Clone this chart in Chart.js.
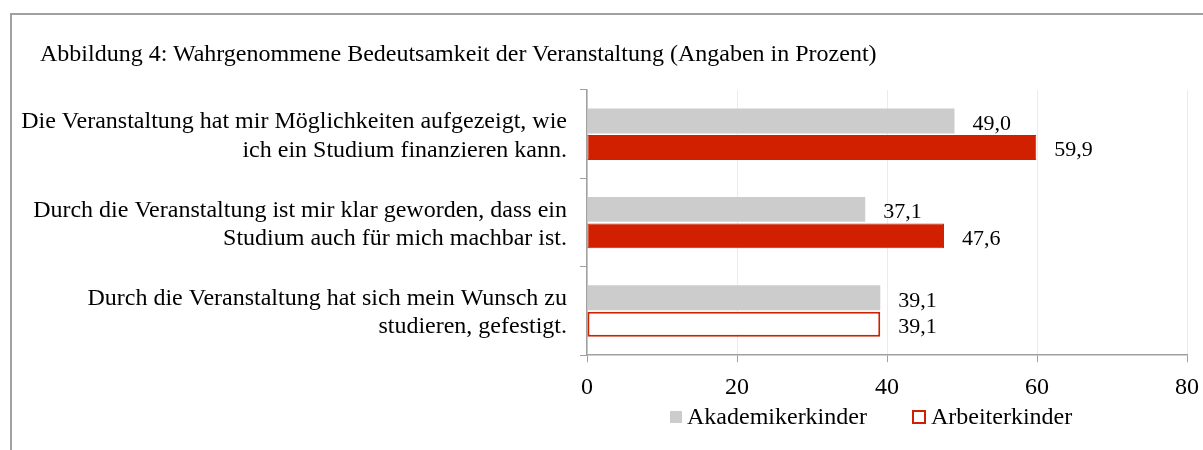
<!DOCTYPE html>
<html lang="de">
<head>
<meta charset="utf-8">
<title>Abbildung 4</title>
<script src="https://cdn.jsdelivr.net/npm/chart.js@4.4.1/dist/chart.umd.min.js"></script>
<style>
  html,body{margin:0;padding:0;background:#fff;overflow:hidden;}
  #wrap{position:relative;width:1203px;height:450px;font-family:'Liberation Serif','Times New Roman',serif;color:#000;}
  #frame{position:absolute;left:10px;top:13px;width:1400px;height:600px;border-top:2px solid #a0a0a0;border-left:2px solid #a0a0a0;}
  #chart{position:absolute;left:0;top:0;}
  #title{position:absolute;left:40px;top:39px;font-size:24px;line-height:28px;white-space:nowrap;}
  #legend{position:absolute;left:670px;top:403px;display:flex;align-items:center;font-size:24px;}
  #legend .item{display:flex;align-items:center;}
  #legend .box{box-sizing:border-box;margin-right:5px;}
</style>
</head>
<body>
<div id="wrap">
  <div id="frame"></div>
  <canvas id="chart" width="1203" height="450"></canvas>
  <div id="title"></div>
  <div id="legend"></div>
</div>
<script>
// Daten
const titel = 'Abbildung 4: Wahrgenommene Bedeutsamkeit der Veranstaltung (Angaben in Prozent)';
const aussagen = [
  ['Die Veranstaltung hat mir Möglichkeiten aufgezeigt, wie', 'ich ein Studium finanzieren kann.'],
  ['Durch die Veranstaltung ist mir klar geworden, dass ein', 'Studium auch für mich machbar ist.'],
  ['Durch die Veranstaltung hat sich mein Wunsch zu', 'studieren, gefestigt.']
];
const serien = ['Akademikerkinder', 'Arbeiterkinder'];
const akademiker = [49.0, 37.1, 39.1];
const arbeiter   = [59.9, 47.6, 39.1];
const xTicks = [0, 20, 40, 60, 80];

const GRAU = '#cccccc', ROT = '#d12000';
const FONT = "'Liberation Serif','Times New Roman',serif";
const fmt = v => v.toFixed(1).replace('.', ',');

document.getElementById('title').textContent = titel;

// Werte rechts neben den Balken
const valueLabels = {
  id: 'valueLabels',
  afterDatasetsDraw(chart) {
    const ctx = chart.ctx;
    ctx.save();
    ctx.font = `22px ${FONT}`;
    ctx.fillStyle = '#000';
    ctx.textAlign = 'left';
    ctx.textBaseline = 'middle';
    chart.data.datasets.forEach((ds, i) => {
      chart.getDatasetMeta(i).data.forEach((bar, j) => {
        ctx.fillText(fmt(ds.data[j]), bar.x + 18, bar.y + 3);
      });
    });
    ctx.restore();
  }
};

new Chart(document.getElementById('chart'), {
  type: 'bar',
  data: {
    labels: aussagen,
    datasets: [
      { label: serien[0], data: akademiker, backgroundColor: GRAU, borderWidth: 0,
        categoryPercentage: 0.6, barPercentage: 0.94 },
      { label: serien[1], data: arbeiter,
        backgroundColor: arbeiter.map((v, i) => i === 2 ? '#ffffff' : ROT),
        borderColor: ROT, borderWidth: arbeiter.map((v, i) => i === 2 ? 2 : 1), borderSkipped: false,
        categoryPercentage: 0.6, barPercentage: 0.94 }
    ]
  },
  options: {
    indexAxis: 'y',
    responsive: false,
    animation: false,
    layout: { padding: { left: 12, right: 16, top: 90, bottom: 37 } },
    plugins: {
      legend: { display: false },
      tooltip: { enabled: false },
      title: { display: false }
    },
    scales: {
      x: {
        min: 0, max: 80,
        afterBuildTicks: s => { s.ticks = xTicks.map(v => ({ value: v })); },
        afterFit: s => { s.paddingLeft = 0; s.paddingRight = 0; },
        grid: { color: '#ebebeb', tickColor: '#a0a0a0', tickLength: 7, drawTicks: true },
        border: { color: '#a0a0a0', width: 1.5 },
        ticks: { color: '#000', padding: 11, font: { family: FONT, size: 24 } }
      },
      y: {
        afterFit: s => { s.width = 575; },
        grid: { offset: true, drawOnChartArea: false, color: '#a0a0a0', tickLength: 7 },
        border: { color: '#a0a0a0', width: 1.5 },
        ticks: { color: '#000', padding: 13, labelOffset: 2, font: { family: FONT, size: 24, lineHeight: 1.17 } }
      }
    }
  },
  plugins: [valueLabels]
});

// Legende
const legend = document.getElementById('legend');
[
  { name: serien[0], style: `width:12px;height:12px;background:${GRAU};` },
  { name: serien[1], style: `width:14px;height:14px;border:2px solid ${ROT};background:#fff;` }
].forEach((it, i) => {
  const el = document.createElement('div');
  el.className = 'item';
  if (i > 0) el.style.marginLeft = '45px';
  el.innerHTML = `<span class="box" style="${it.style}"></span><span>${it.name}</span>`;
  legend.appendChild(el);
});
</script>
</body>
</html>
